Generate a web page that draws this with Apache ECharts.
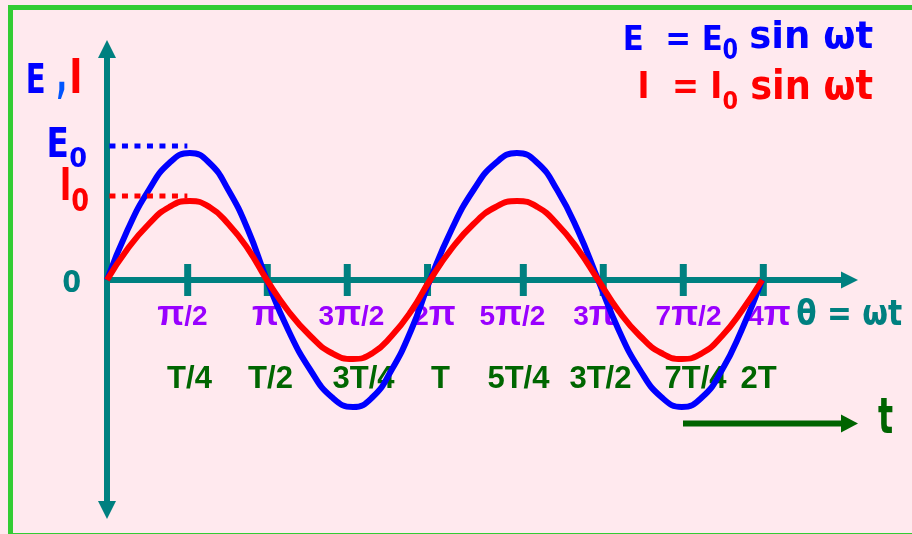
<!DOCTYPE html>
<html><head><meta charset="utf-8">
<script src="https://cdn.jsdelivr.net/npm/echarts@6/dist/echarts.min.js"></script>
<style>html,body{margin:0;padding:0;background:#ffe9ee}#c{width:912px;height:534px}</style>
</head><body><div id="c"></div>
<script>
// ---- data (x in units of π/2, y in arbitrary amplitude units) ----
const curveX  = [0, 0.25, 0.51, 0.76, 1.01, 1.25, 1.48, 1.72, 1.95, 2.21, 2.48, 2.74, 3.0, 3.24, 3.47, 3.71, 3.94,
                 4.2, 4.47, 4.74, 5.0, 5.25, 5.49, 5.74, 5.99, 6.24, 6.5, 6.76, 7.01, 7.26, 7.5, 7.74, 7.99];
const eValues = [0, 50, 90, 117, 127, 117, 90, 50, 0, -50, -90, -117, -127, -117, -90, -50, 0,
                 50, 90, 117, 127, 117, 90, 50, 0, -50, -90, -117, -127, -117, -90, -50, 0];
const iValues = [0, 31, 56, 73, 79, 73, 56, 31, 0, -31, -56, -73, -79, -73, -56, -31, 0,
                 31, 56, 73, 79, 73, 56, 31, 0, -31, -56, -73, -79, -73, -56, -31, 0];
const e0Level = 134;
const i0Level = 84;
const guideX = [0.03, 0.98];
const tickX = [0.984, 1.955, 2.930, 3.909, 5.077, 6.052, 7.028, 8.004];
const thetaLabels = ['π/2', 'π', '3π/2', '2π', '5π/2', '3π', '7π/2', '4π'];
const thetaLabelX = [0.927, 1.939, 2.988, 4.0, 4.951, 5.951, 7.098, 8.085];
const timeLabels = ['T/4', 'T/2', '3T/4', 'T', '5T/4', '3T/2', '7T/4', '2T'];
const timeLabelX = [1.012, 2.0, 3.134, 4.073, 5.024, 6.024, 7.183, 7.951];
const thetaRowY = -38;
const timeRowY = -100;

// ---- helpers ----
const TEAL = '#008080', BLUE = '#0000ff', RED = '#ff0000', PURPLE = '#9900ff', GREEN = '#006600';
const F = 'bold 40px "DejaVu Sans"';
const mctx = document.createElement('canvas').getContext('2d');
function fitBox(text, font, color, left, right, top, bottom) {
  mctx.font = font; mctx.textBaseline = 'middle'; mctx.textAlign = 'left';
  const m = mctx.measureText(text);
  const w = m.actualBoundingBoxLeft + m.actualBoundingBoxRight;
  const h = m.actualBoundingBoxAscent + m.actualBoundingBoxDescent;
  const sx = (right - left) / w, sy = (bottom - top) / h;
  return {
    type: 'text', z: 100, silent: true,
    x: left + m.actualBoundingBoxLeft * sx,
    y: top + m.actualBoundingBoxAscent * sy,
    scaleX: sx, scaleY: sy,
    style: { text: text, font: font, fill: color, align: 'left', verticalAlign: 'middle', textAlign: 'left', textVerticalAlign: 'middle' }
  };
}
// size the π glyph so that it is as tall as the digits and sits on the same baseline
const NUM_SIZE = 28;
const piStyle = (function () {
  mctx.textBaseline = 'middle';
  mctx.font = 'bold ' + NUM_SIZE + 'px "Liberation Sans"';
  const md = mctx.measureText('2');
  mctx.font = 'bold 100px "Liberation Sans"';
  const mp = mctx.measureText('π');
  const a = mp.actualBoundingBoxAscent / 100, b = mp.actualBoundingBoxDescent / 100;
  const size = (md.actualBoundingBoxAscent + md.actualBoundingBoxDescent) / (a + b);
  const shift = md.actualBoundingBoxDescent - b * size;
  const padding = shift < 0 ? [0, 0, -2 * shift, 0] : [2 * shift, 0, 0, 0];
  return { color: PURPLE, fontFamily: 'Liberation Sans', fontWeight: 'bold', fontSize: size, padding: padding, verticalAlign: 'middle' };
})();
function richParts(s) {
  return s.split(/(π)/).filter(t => t.length).map(t => t === 'π' ? '{p|π}' : '{n|' + t + '}').join('');
}
const labelBase = { show: true, position: [0, 0], align: 'center', verticalAlign: 'middle',
  textBorderWidth: 0, textShadowBlur: 0, opacity: 1 };
const chart = echarts.init(document.getElementById('c'), null, { renderer: 'canvas' });
const axisLineStyle = { color: TEAL, width: 6 };
const option = {
  animation: false,
  backgroundColor: '#ffe9ee',
  grid: { left: 107, top: 49, width: 742.5, height: 461, containLabel: false },
  xAxis: {
    type: 'value', min: 0, max: 9.055,
    axisLine: { show: true, onZero: true, symbol: ['none', 'triangle'], symbolSize: [17, 17], lineStyle: axisLineStyle },
    axisTick: { show: false }, axisLabel: { show: false }, splitLine: { show: false }
  },
  yAxis: {
    type: 'value', min: -230, max: 231,
    axisLine: { show: true, symbol: ['triangle', 'triangle'], symbolSize: [18, 18], lineStyle: axisLineStyle },
    axisTick: { show: false }, axisLabel: { show: false }, splitLine: { show: false }
  },
  series: [
    { type: 'scatter', z: 2, silent: true, symbol: 'rect', symbolSize: [7, 32],
      itemStyle: { color: TEAL, opacity: 1 }, data: tickX.map(x => [x, 0]) },
    { type: 'scatter', z: 1, silent: true, symbolSize: 1, itemStyle: { color: 'rgba(0,0,0,0)', opacity: 1 },
      data: thetaLabelX.map((x, i) => ({ value: [x, thetaRowY], name: thetaLabels[i] })),
      label: Object.assign({}, labelBase, {
        formatter: p => richParts(p.name),
        rich: {
          n: { color: PURPLE, fontFamily: 'Liberation Sans', fontWeight: 'bold', fontSize: NUM_SIZE, verticalAlign: 'middle', textBorderWidth: 0 },
          p: Object.assign({ textBorderWidth: 0 }, piStyle)
        } }) },
    { type: 'scatter', z: 1, silent: true, symbolSize: 1, itemStyle: { color: 'rgba(0,0,0,0)', opacity: 1 },
      data: timeLabelX.map((x, i) => ({ value: [x, timeRowY], name: timeLabels[i] })),
      label: Object.assign({}, labelBase, {
        formatter: p => '{n|' + p.name + '}',
        rich: { n: { color: GREEN, fontFamily: 'Liberation Sans', fontWeight: 'bold', fontSize: 31, textBorderWidth: 0 } } }) },
    { type: 'line', z: 3, silent: true, smooth: true, symbol: 'none',
      lineStyle: { color: BLUE, width: 6 }, data: curveX.map((x, i) => [x, eValues[i]]) },
    { type: 'line', z: 4, silent: true, smooth: true, symbol: 'none',
      lineStyle: { color: RED, width: 6 }, data: curveX.map((x, i) => [x, iValues[i]]) },
    { type: 'line', z: 3, silent: true, symbol: 'none',
      lineStyle: { color: BLUE, width: 5, type: [6, 6.5] }, data: guideX.map(x => [x, e0Level]) },
    { type: 'line', z: 3, silent: true, symbol: 'none',
      lineStyle: { color: RED, width: 5, type: [6, 6.5] }, data: guideX.map(x => [x, i0Level]) }
  ],
  graphic: [
    { type: 'rect', silent: true, z: 50, shape: { x: 10.5, y: 7.5, width: 910, height: 528 },
      style: { fill: 'none', stroke: '#33cc33', lineWidth: 5 } },
    { type: 'line', silent: true, z: 50, shape: { x1: 683, y1: 423.5, x2: 843, y2: 423.5 },
      style: { stroke: '#006400', lineWidth: 6 } },
    { type: 'polygon', silent: true, z: 50, shape: { points: [[841, 414.5], [858, 423.5], [841, 432.5]] },
      style: { fill: '#006400' } },
    fitBox('E', F, BLUE, 28, 44, 62, 93),
    fitBox(',', F, '#0055ff', 58, 65, 82, 100),
    fitBox('I', F, RED, 72, 80, 57, 93),
    fitBox('E', F, BLUE, 49, 67, 127, 157),
    fitBox('0', F, BLUE, 70, 86, 147, 168),
    fitBox('I', F, RED, 62, 69, 167, 200),
    fitBox('0', F, RED, 72, 88, 187, 212),
    fitBox('0', F, TEAL, 63, 80, 269, 293),
    fitBox('E  = E', F, BLUE, 625, 721, 25, 50),
    fitBox('0', F, BLUE, 723, 737, 38, 60),
    fitBox('sin ωt', F, BLUE, 751, 873, 19, 49),
    fitBox('I  = I', F, RED, 640, 720, 70, 98),
    fitBox('0', F, RED, 723, 737, 90, 110),
    fitBox('sin ωt', F, RED, 752, 873, 68, 100),
    fitBox('θ = ωt', F, TEAL, 797, 902, 297, 326),
    fitBox('t', F, '#006400', 878, 893, 397, 433)
  ]
};
chart.setOption(option);
</script></body></html>
